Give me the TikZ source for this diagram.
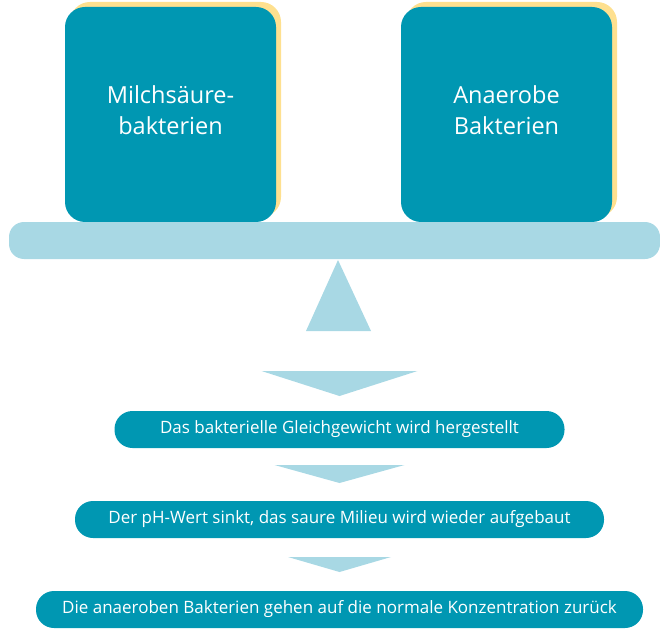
\documentclass[tikz,border=0pt]{standalone}
\usepackage{fontspec}
\setmainfont{Open Sans}
\usetikzlibrary{positioning,shadows}
\definecolor{tealbox}{RGB}{0,151,178}
\definecolor{beamblue}{RGB}{168,216,228}
\definecolor{shadowyellow}{RGB}{254,224,143}

\begin{document}
\begin{tikzpicture}[x=1pt, y=-1pt,
  bacteria/.style={fill=tealbox, text=white, rounded corners=20pt,
    minimum width=211pt, minimum height=215pt, inner sep=0pt, align=center,
    font=\fontsize{23.5}{31}\selectfont, text depth=8pt,
    general shadow={fill=shadowyellow, shadow xshift=5pt, shadow yshift=5pt}},
  stepbox/.style={fill=tealbox, text=white, rounded corners=18pt,
    minimum height=37pt, inner sep=0pt, font=\fontsize{17}{20}\selectfont},
  wedge/.style={fill=beamblue}]

\useasboundingbox (0,0) rectangle (660,628);

% the scale
\node [bacteria] (milch) at (170.5,114.5) {Milchsäure-\\bakterien};
\node [bacteria] (anaerob) at (506.5,114.5) {Anaerobe\\Bakterien};

\node [fill=beamblue, rounded corners=15pt, minimum width=651pt,
  minimum height=37pt, inner sep=0pt] (beam) at (334.5,240.5) {};

\fill [wedge] (338,260) -- (371,331) -- (306,331) -- cycle;

% the steps
\node [stepbox, minimum width=450pt] (step-1) at (339.5,429.5) {Das bakterielle Gleichgewicht wird hergestellt};
\node [stepbox, minimum width=529pt] (step-2) at (339.5,519.5) {Der pH-Wert sinkt, das saure Milieu wird wieder aufgebaut};
\node [stepbox, minimum width=607pt] (step-3) at (339.5,609.5) {Die anaeroben Bakterien gehen auf die normale Konzentration zurück};

\foreach \t/\w/\h in {371/78/25, 465/65/18, 557/51.5/15}
  \fill [wedge] (339.5-\w,\t) -- (339.5+\w,\t) -- (339.5,\t+\h) -- cycle;

\end{tikzpicture}
\end{document}
